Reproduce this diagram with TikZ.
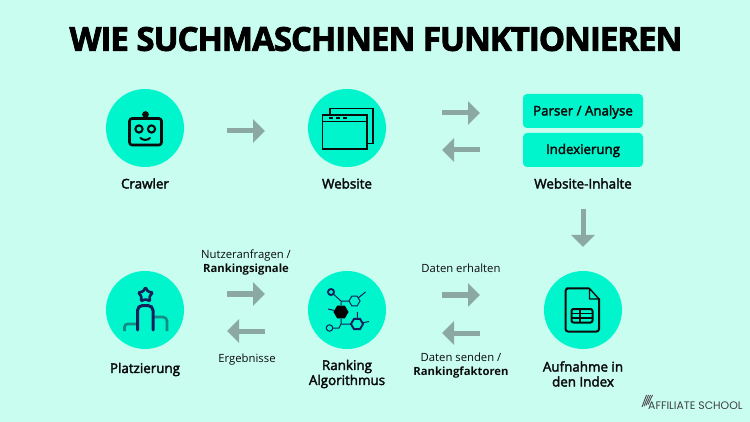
\documentclass[tikz,border=0pt]{standalone}
\usepackage{fontspec}
\usetikzlibrary{arrows.meta,shapes.geometric}
\setmainfont{Open Sans}
\newfontfamily\labelfont[FakeBold=2.6]{Open Sans}
\newfontfamily\strongfont{Open Sans Bold}
\newfontfamily\titlefont[FakeBold=2.4,LetterSpace=-3.0]{Open Sans Bold}
\newfontfamily\logofont{Poppins}
\definecolor{bgmint}{HTML}{C9FDF0}
\definecolor{mint}{HTML}{00F5CC}
\definecolor{arrowgrey}{HTML}{8BA8A2}
\definecolor{inkblack}{HTML}{0B0B0B}
\definecolor{navyink}{HTML}{14205A}
\definecolor{tealink}{HTML}{148C86}
\tikzset{
  disc/.style={circle,fill=mint,minimum size=78pt,inner sep=0pt,outer sep=0pt},
  tagbox/.style={rectangle,rounded corners=4pt,fill=mint,minimum width=120pt,minimum height=34pt,inner sep=0pt,outer sep=0pt},
  tagtext/.style={text=inkblack,font=\labelfont\fontsize{13.3}{15}\selectfont,inner sep=0pt},
  caption/.style={text=inkblack,font=\labelfont\fontsize{13.4}{15}\selectfont,align=center,inner sep=0pt},
  smalltext/.style={text=inkblack,font=\fontsize{11.3}{14}\selectfont,align=center,inner sep=0pt},
  bigarrow/.style={draw=arrowgrey,line width=5pt,-{Triangle[length=12pt,width=23pt,fill=arrowgrey]}},
  icon/.style={draw=inkblack,line width=2.6pt,line join=round,line cap=round},
  thinicon/.style={draw=inkblack,line width=1.6pt},
  atom/.style={draw=navyink,line width=1.5pt,fill=mint,inner sep=0pt,outer sep=0pt},
  bond/.style={draw=navyink,line width=1pt},
}
\begin{document}
\begin{tikzpicture}[x=1pt,y=-1pt]
\useasboundingbox (0,0) rectangle (750,422);
\fill[bgmint] (0,0) rectangle (750,422);

\node[text=black,font=\titlefont\fontsize{33}{36}\selectfont,inner sep=0pt] (title) at (376,39) {WIE SUCHMASCHINEN FUNKTIONIEREN};

% discs
\node[disc] (crawler) at (145,128) {};
\node[disc] (website) at (347,128) {};
\node[disc] (platz) at (145,310) {};
\node[disc] (ranking) at (347,310) {};
\node[disc] (aufnahme) at (583,310) {};
\node[tagbox] (parser) at (583,111) {};
\node[tagbox] (index) at (583,150) {};
\node[tagtext] (tparser) at (583,112) {Parser / Analyse};
\node[tagtext] (tindex) at (583,150.5) {Indexierung};

% captions
\node[caption] (lcrawler) at (145,183.5) {Crawler};
\node[caption] (lwebsite) at (347,183.5) {Website};
\node[caption] (linhalte) at (583,183.5) {Website-Inhalte};
\node[caption] (lplatz) at (145,369.5) {Platzierung};
\node[caption] (lranking) at (347,374) {Ranking\\Algorithmus};
\node[caption] (laufnahme) at (583,374) {Aufnahme in\\den Index};
\node[smalltext] (lnutzer) at (246,262.5) {Nutzeranfragen /\\{\strongfont Rankingsignale}};
\node[smalltext] (lergebnisse) at (247,360) {Ergebnisse};
\node[smalltext] (lerhalten) at (461,268.5) {Daten erhalten};
\node[smalltext] (lsenden) at (461,366) {Daten senden /\\{\strongfont Rankingfaktoren}};

% arrows
\draw[bigarrow,shorten <=43pt,shorten >=43pt] ([yshift=-3pt]crawler.east) -- ([yshift=-3pt]website.west);
\draw[bigarrow,shorten <=56pt,shorten >=43pt] ([yshift=15pt]website.east) -- ([yshift=-2pt]parser.west);
\draw[bigarrow,shorten <=43pt,shorten >=56pt] (index.west) -- ([yshift=-22pt]website.east);
\draw[bigarrow,shorten <=20pt,shorten >=24pt] (linhalte.south) -- (aufnahme.north);
\draw[bigarrow,shorten <=43pt,shorten >=43pt] ([yshift=16pt]platz.east) -- ([yshift=16pt]ranking.west);
\draw[bigarrow,shorten <=43pt,shorten >=43pt] ([yshift=-21pt]ranking.west) -- ([yshift=-21pt]platz.east);
\draw[bigarrow,shorten <=56pt,shorten >=64pt] ([yshift=15pt]ranking.east) -- ([yshift=15pt]aufnahme.west);
\draw[bigarrow,shorten <=64pt,shorten >=56pt] ([yshift=-23pt]aufnahme.west) -- ([yshift=-23pt]ranking.east);

% robot icon
\draw[icon,rounded corners=2.5pt] (129.5,118.5) rectangle (161.5,145);
\fill[inkblack] (145.5,114.5) circle (3.4pt);
\draw[icon,line width=2.1pt] (139,129) circle (3.6pt) (151.5,129) circle (3.6pt);
\draw[icon,line width=2pt] (140.5,138) .. controls (143,140.5) and (147.5,140.5) .. (150,138);

% website icon
\draw[thinicon] (330,114) -- (330,108.5) -- (373,108.5) -- (373,143.5) -- (367.5,143.5);
\draw[thinicon] (322.5,115) rectangle (367,149) (322.5,121.5) -- (367,121.5);
\draw[thinicon] (329,118) -- (333,118) (336,118) -- (340,118) (343,118) -- (347,118);

% podium icon
\node[star,star points=5,star point ratio=1.75,draw=navyink,line width=2.6pt,fill=none,minimum size=15pt,inner sep=0pt,rounded corners=1pt] (starmark) at (145.5,295) {};
\draw[draw=tealink,line width=2.6pt,rounded corners=3pt] (124.5,331) -- (124.5,324) -- (137,324);
\draw[draw=tealink,line width=2.6pt,rounded corners=4pt] (153,317) -- (167,317) -- (167,331);
\draw[draw=navyink,line width=3pt,rounded corners=5pt,line cap=round] (137.5,330) -- (137.5,305.5) -- (153,305.5) -- (153,330);

% molecule icon
\node[regular polygon,regular polygon sides=6,fill=black,minimum size=15pt,inner sep=0pt] (hexa) at (341,312) {};
\node[regular polygon,regular polygon sides=6,atom,line width=1pt,minimum size=11pt] (hexb) at (354.5,301) {};
\node[regular polygon,regular polygon sides=6,atom,line width=1.9pt,minimum size=12pt] (hexc) at (357,324) {};
\node[circle,atom,line width=1.9pt,minimum size=6pt] (atoma) at (331,292) {};
\node[circle,atom,line width=1pt,minimum size=6.5pt] (atomb) at (329.5,328) {};
\coordinate (bonda) at (341,301);
\coordinate (bondb) at (341,324);
\draw[bond] (atoma) -- (bonda) -- (hexb) (bonda) -- (hexa);
\draw[bond] (atomb) -- (339,328) -- (bondb) -- (hexc) (bondb) -- (hexa);
\coordinate (stuba) at (328,309); \coordinate (stubb) at (365.5,292);
\coordinate (stubc) at (357.5,312); \coordinate (stubd) at (369,321.5);
\draw[bond] (stuba) -- (hexa) (hexb) -- (stubb) (hexc) -- (stubc) (hexc) -- (stubd);

% document icon
\draw[icon,line width=2pt,rounded corners=2.5pt] (589,288.5) -- (569,288.5) -- (565.5,288.5) -- (565.5,331.5) -- (599,331.5) -- (599,299);
\draw[icon,line width=1.4pt] (589.5,288.5) -- (599,299) -- (589.5,299) -- cycle;
\draw[icon,line width=2pt,rounded corners=2pt] (571.5,309) rectangle (592.5,322.5);
\draw[icon,line width=1.3pt] (571.5,313.5) -- (592.5,313.5) (571.5,318) -- (592.5,318) (580,309) -- (580,322.5);

% logo
\node[anchor=west,inner sep=0pt,text=black!75,font=\logofont\fontsize{10.9}{12}\selectfont] (logo) at (648,406) {AFFILIATE SCHOOL};
\foreach \dx in {0,2,4,6}{
  \draw[black!70,line width=.9pt] (642+\dx,407-\dx*.4) -- (646.5+\dx,395);
}
\end{tikzpicture}
\end{document}
